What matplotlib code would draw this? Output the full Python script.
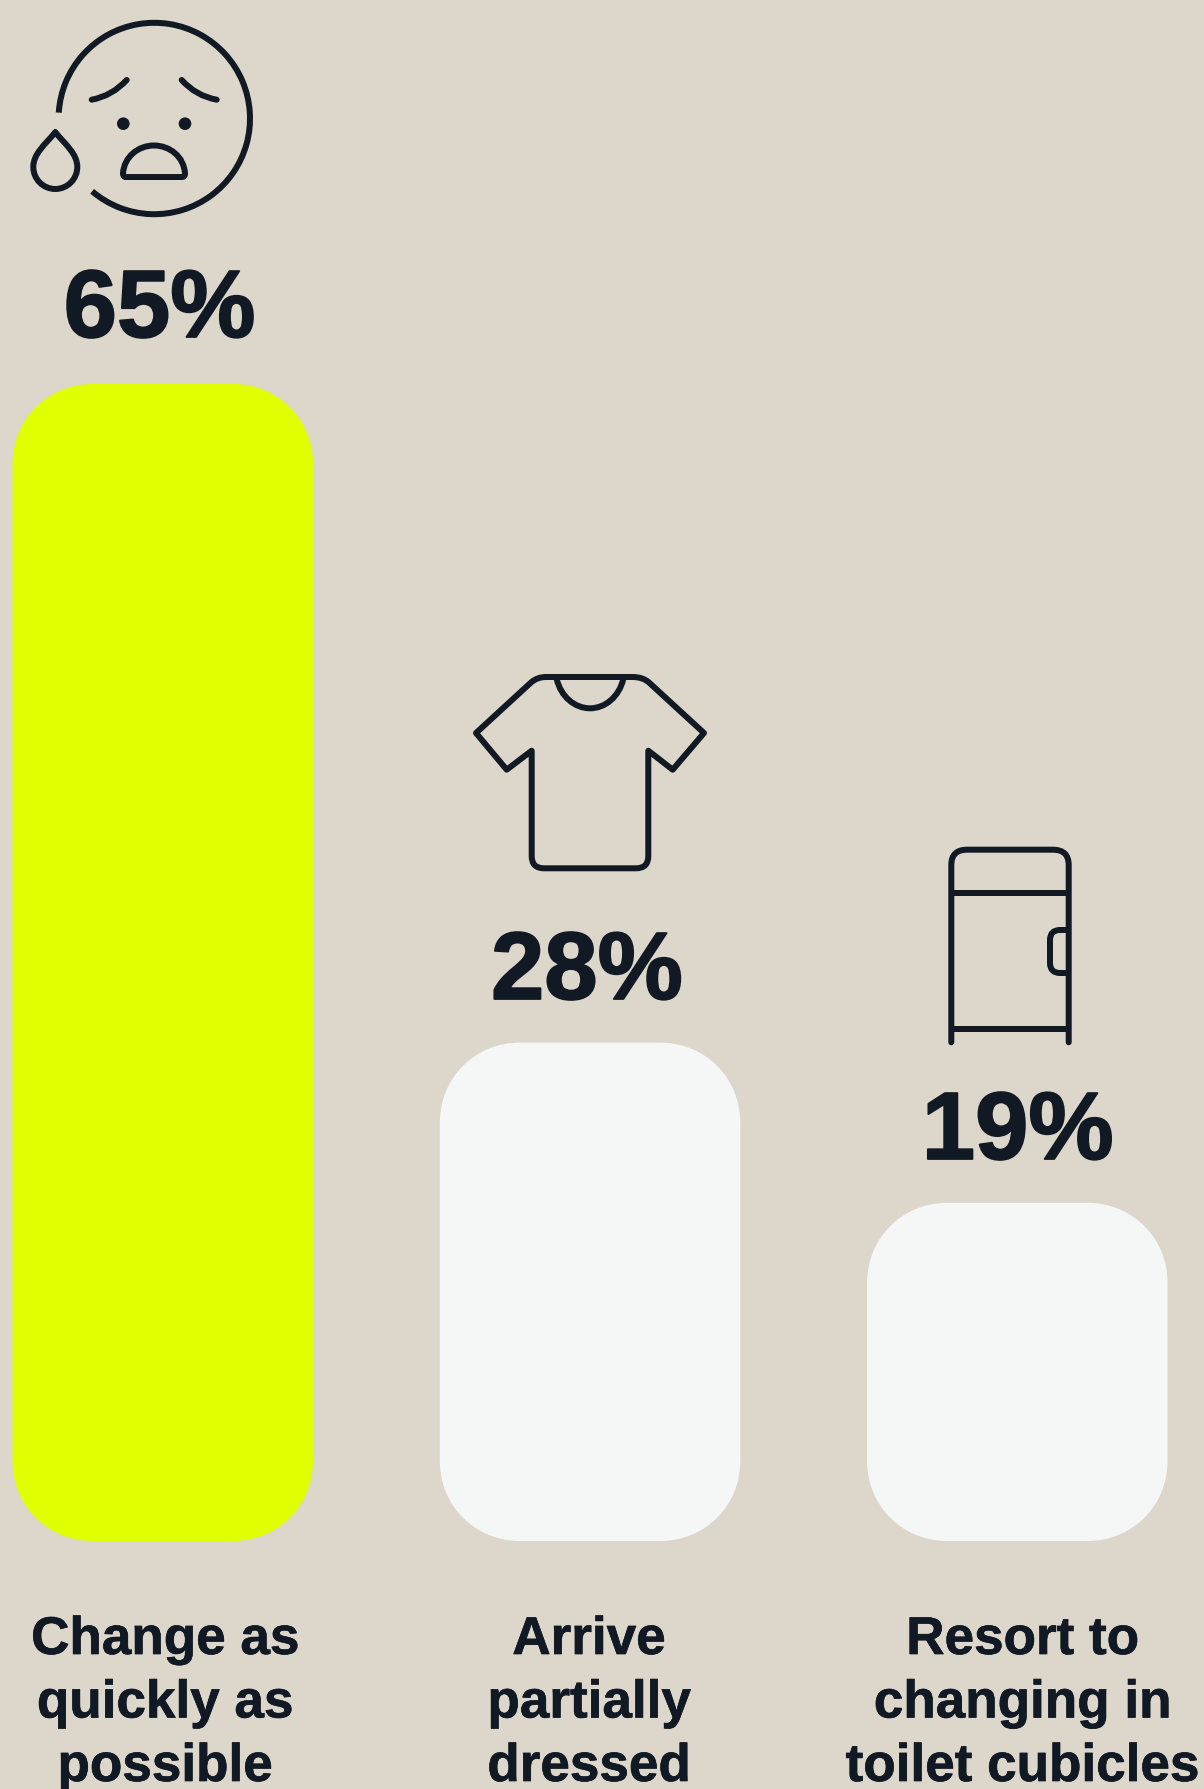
import matplotlib
matplotlib.use("Agg")
import matplotlib.pyplot as plt
import matplotlib.patheffects as pe
from matplotlib.patches import PathPatch, Circle
from matplotlib.path import Path
from matplotlib.transforms import Affine2D

# Survey results
categories = ["Change as\nquickly as\npossible", "Arrive\npartially\ndressed",
              "Resort to\nchanging in\ntoilet cubicles"]
values = [65, 28, 19]
highlight = [True, False, False]

BG = "#DCD6CB"
YELLOW = "#E0FF00"
PALE = "#F5F7F6"
INK = "#111A24"

W, H = 1204, 1790
DPI = 100
plt.rcParams["font.family"] = ["Liberation Sans", "DejaVu Sans"]

fig = plt.figure(figsize=(W / DPI, H / DPI), dpi=DPI, facecolor=BG)
ax = fig.add_axes([0, 0, 1, 1])
ax.axis("off")

# Axis scales: bar spacing and value-to-height in pixels
X0, DX = 162.8, 427.25
BASE, PER_PCT = 1542.0, 17.8
ax.set_xlim(-X0 / DX, (W - X0) / DX)
ax.set_ylim((BASE - H) / PER_PCT, BASE / PER_PCT)

# Top-left pixel space for icons and text
px = Affine2D().scale(1, -1).translate(0, H)


def rounded_bar(x, value, width, color, r_px=80, k=0.56):
    """Bar from 0 to value with large round corners, in data coordinates."""
    rx, ry = r_px / DX, r_px / PER_PCT
    l, r, b, t = x - width / 2, x + width / 2, 0, value
    cx, cy = rx * (1 - k), ry * (1 - k)
    verts = [(l + rx, b), (r - rx, b), (r - cx, b), (r, b + cy), (r, b + ry),
             (r, t - ry), (r, t - cy), (r - cx, t), (r - rx, t),
             (l + rx, t), (l + cx, t), (l, t - cy), (l, t - ry),
             (l, b + ry), (l, b + cy), (l + cx, b), (l + rx, b), (l + rx, b)]
    codes = [Path.MOVETO, Path.LINETO, Path.CURVE4, Path.CURVE4, Path.CURVE4,
             Path.LINETO, Path.CURVE4, Path.CURVE4, Path.CURVE4,
             Path.LINETO, Path.CURVE4, Path.CURVE4, Path.CURVE4,
             Path.LINETO, Path.CURVE4, Path.CURVE4, Path.CURVE4, Path.CLOSEPOLY]
    ax.add_patch(PathPatch(Path(verts, codes), facecolor=color, edgecolor="none"))


for i, (v, hl) in enumerate(zip(values, highlight)):
    rounded_bar(i, v, 300.5 / DX, YELLOW if hl else PALE)

# Percentage labels, slightly heavier than the stock bold
pct_x = [159.6, 587.0, 1017.7]
pct_y = [338.0, 1000.0, 1160.0]
heavy = [pe.withStroke(linewidth=1.3, foreground=INK)]
for x, y, v in zip(pct_x, pct_y, values):
    ax.text(x, y, f"{v}%", transform=px, ha="center", va="baseline",
            fontsize=69, fontweight="bold", color=INK, path_effects=heavy)

# Category labels, one line at a time for exact leading
label_x = [165.0, 589.0, 1022.5]
line_y = [1655, 1718.5, 1782]
medium = [pe.withStroke(linewidth=0.5, foreground=INK)]
for x, cat in zip(label_x, categories):
    for y, line in zip(line_y, cat.split("\n")):
        ax.text(x, y, line, transform=px, ha="center", va="baseline",
                fontsize=38.2, fontweight="bold", color=INK, path_effects=medium)

LW = 6.0 * 72 / DPI


def stroke(verts, codes=None, cap="round", join="round"):
    if codes is None:
        codes = [Path.MOVETO] + [Path.LINETO] * (len(verts) - 1)
    ax.add_patch(PathPatch(Path(verts, codes), transform=px, facecolor="none",
                           edgecolor=INK, linewidth=LW, capstyle=cap,
                           joinstyle=join, clip_on=False))


M, L, Q, C = Path.MOVETO, Path.LINETO, Path.CURVE3, Path.CURVE4

# Worried face with a tear: the outline leaves a gap on the lower left
outline = Path.arc(-130.5, 176.5)
outline = outline.transformed(Affine2D().scale(95.7, -95.7).translate(154.3, 119.5))
ax.add_patch(PathPatch(outline, transform=px, facecolor="none", edgecolor=INK,
                       linewidth=LW, capstyle="butt", clip_on=False))
stroke([(91.7, 100.7), (112, 97), (126.7, 81)], [M, Q, Q])
stroke([(181.7, 81), (196, 97), (216.7, 100.7)], [M, Q, Q])
for ex in (123.3, 185.0):
    ax.add_patch(Circle((ex, 124.7), 6.3, transform=px, facecolor=INK, edgecolor="none"))
stroke([(126, 178), (182, 178), (185, 178), (185, 174.5), (184, 158), (170, 146.5),
        (154, 146.5), (138, 146.5), (124, 158), (123, 174.5), (123, 178), (126, 178), (126, 178)],
       [M, L, Q, Q, C, C, C, C, C, C, Q, Q, L])
stroke([(55.3, 133.3), (66, 146), (77.3, 155), (77.3, 168), (77.3, 180), (67.5, 190),
        (55.3, 190), (43, 190), (33.3, 180), (33.3, 168), (33.3, 155), (44.5, 146), (55.3, 133.3)],
       [M, C, C, C, C, C, C, C, C, C, C, C, C])

# T-shirt
stroke([(546, 678), (632, 678), (640, 678), (645, 680), (649, 683.5), (704, 734), (672.7, 770.7),
        (648.3, 751.7), (648.3, 857), (648.3, 869.3), (636, 869.3), (544, 869.3),
        (531.7, 869.3), (531.7, 857), (531.7, 751.7), (506.7, 770.7), (476, 734),
        (531, 683.5), (535, 680), (540, 678), (546, 678)],
       [M, L, C, C, C, L, L, L, L, Q, Q, L, Q, Q, L, L, L, L, C, C, C])
stroke([(556.7, 680), (561, 698), (575, 709.3), (590, 709.3),
        (605, 709.3), (619, 698), (623.3, 680)], [M, C, C, C, C, C, C], cap="butt")

# Changing cubicle
stroke([(951.3, 1043.3), (951.3, 866), (951.3, 850.7), (967, 850.7), (1053, 850.7),
        (1068.7, 850.7), (1068.7, 866), (1068.7, 1043.3)], [M, L, Q, Q, L, Q, Q, L])
stroke([(951.3, 894), (1068.7, 894)], cap="butt")
stroke([(951.3, 1030), (1068.7, 1030)], cap="butt")
stroke([(1066, 931), (1060, 931), (1050, 931), (1050, 941), (1050, 964), (1050, 974),
        (1060, 974), (1066, 974)], [M, L, Q, Q, L, Q, Q, L], cap="butt")

fig.savefig("out.png", dpi=DPI, facecolor=BG)
